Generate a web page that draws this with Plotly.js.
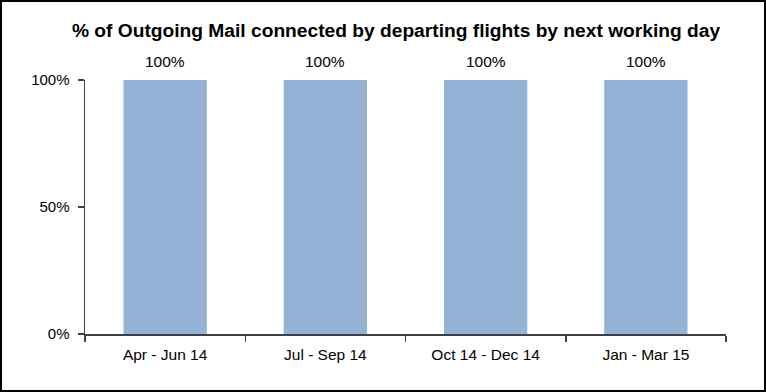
<!DOCTYPE html>
<html>
<head>
<meta charset="utf-8">
<script src="https://cdn.plot.ly/plotly-3.0.1.min.js"></script>
<style>
  html, body { margin: 0; padding: 0; background: #fff; }
  #wrap { position: relative; width: 766px; height: 392px; }
  #chart { position: absolute; left: 0; top: 0; width: 766px; height: 392px; }
  #frame { position: absolute; left: 0; top: 0; width: 766px; height: 392px; box-sizing: border-box; border: 2px solid #000; pointer-events: none; }
</style>
</head>
<body>
<div id="wrap">
  <div id="chart"></div>
  <div id="frame"></div>
</div>
<script>
const categories = ["Apr - Jun 14", "Jul - Sep 14", "Oct 14 - Dec 14", "Jan - Mar 15"];
const values = [1.00, 1.00, 1.00, 1.00];
const valueLabels = ["100%", "100%", "100%", "100%"];
const yTickVals = [0, 0.5, 1];
const yTickText = ["0%", "50%", "100%"];

const FONT = "Liberation Sans, Arial, sans-serif";
const axisColor = "#404040";

const trace = {
  type: "bar",
  x: categories,
  y: values,
  width: 0.52,
  marker: { color: "#95B3D7", line: { width: 0 } },
  hoverinfo: "skip"
};

const annotations = categories.map((c, i) => ({
  x: c, y: values[i], xref: "x", yref: "y",
  text: valueLabels[i], showarrow: false,
  yanchor: "bottom", yshift: 8,
  font: { family: FONT, size: 15.5, color: "#000" }
}));

const layout = {
  width: 766, height: 392,
  margin: { l: 85, r: 40, t: 80, b: 58, pad: 0 },
  paper_bgcolor: "#fff", plot_bgcolor: "#fff",
  showlegend: false,
  title: {
    text: "<b>% of Outgoing Mail connected by departing flights by next working day</b>",
    font: { family: FONT, size: 19.2, color: "#000" },
    x: 0.517, xanchor: "center", y: 0.922, yanchor: "middle"
  },
  xaxis: {
    type: "category",
    showline: true, linecolor: axisColor, linewidth: 1.5,
    ticks: "outside", tickson: "boundaries", ticklen: 6, tickcolor: axisColor, tickwidth: 1.5,
    showgrid: false, zeroline: false,
    tickfont: { family: FONT, size: 15.5, color: "#000" },
    ticklabelstandoff: 6,
    fixedrange: true
  },
  yaxis: {
    range: [0, 1],
    tickvals: yTickVals, ticktext: yTickText,
    showline: true, linecolor: axisColor, linewidth: 1.5,
    ticks: "outside", ticklen: 6, tickcolor: axisColor, tickwidth: 1.5,
    showgrid: false, zeroline: false,
    tickfont: { family: FONT, size: 15, color: "#000" },
    ticklabelstandoff: 5,
    fixedrange: true
  },
  annotations: annotations
};

Plotly.newPlot("chart", [trace], layout, { displayModeBar: false, staticPlot: true });
</script>
</body>
</html>
